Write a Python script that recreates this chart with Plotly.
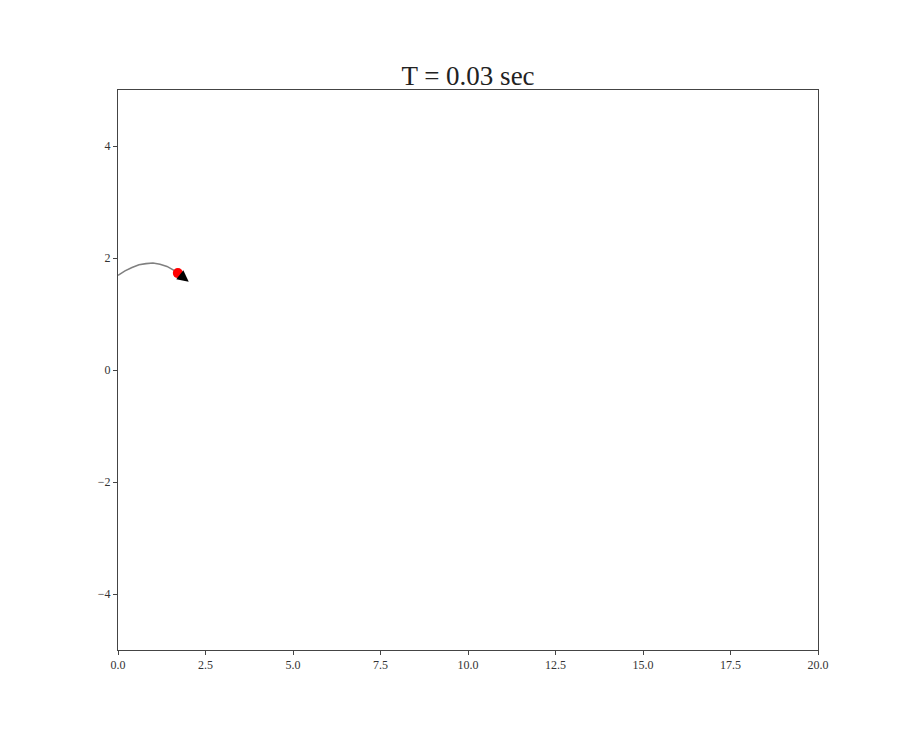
import plotly.graph_objects as go

title_text = "T = 0.03 sec"
path_x = [0.0, 0.2, 0.4, 0.6, 0.8, 1.0, 1.2, 1.4, 1.6, 1.71]
path_y = [1.69, 1.77, 1.83, 1.88, 1.90, 1.91, 1.89, 1.85, 1.78, 1.73]
ball_x = [1.71]
ball_y = [1.73]
arrow_tip_x = 2.02
arrow_tip_y = 1.575
x_ticks = [0, 2.5, 5, 7.5, 10, 12.5, 15, 17.5, 20]
y_ticks = [-4, -2, 0, 2, 4]

fig = go.Figure()
fig.add_trace(go.Scatter(x=path_x, y=path_y, mode="lines",
                         line=dict(color="#808080", width=1.6), hoverinfo="skip"))
fig.add_trace(go.Scatter(x=ball_x, y=ball_y, mode="markers",
                         marker=dict(color="red", size=10, line=dict(width=0)),
                         hoverinfo="skip"))
fig.add_annotation(x=arrow_tip_x, y=arrow_tip_y, ax=ball_x[0], ay=ball_y[0],
                   xref="x", yref="y", axref="x", ayref="y", text="",
                   showarrow=True, arrowhead=2, arrowsize=0.95, arrowwidth=2.4,
                   arrowcolor="black", standoff=0, startstandoff=5)

serif = "Liberation Serif, DejaVu Serif, serif"
fig.update_layout(
    width=901, height=730,
    margin=dict(l=110, r=91, t=82, b=88),
    paper_bgcolor="white", plot_bgcolor="white",
    showlegend=False,
    title=dict(text=title_text, x=0.5, xref="paper", y=1, yref="paper",
               yanchor="bottom", pad=dict(b=5),
               font=dict(family=serif, size=27, color="#222")),
    font=dict(family=serif, size=12, color="#333"),
)
fig.update_xaxes(range=[0, 20], tickvals=x_ticks, tickformat=".1f",
                 showgrid=False, zeroline=False, showline=True, mirror=True,
                 linecolor="#444", linewidth=1, ticks="outside", ticklen=4,
                 tickcolor="#444", tickfont=dict(family=serif, size=12, color="#333"))
fig.update_yaxes(range=[-5, 5], tickvals=y_ticks,
                 showgrid=False, zeroline=False, showline=True, mirror=True,
                 linecolor="#444", linewidth=1, ticks="outside", ticklen=4,
                 tickcolor="#444", tickfont=dict(family=serif, size=12, color="#333"))
fig.write_html("out.html")
